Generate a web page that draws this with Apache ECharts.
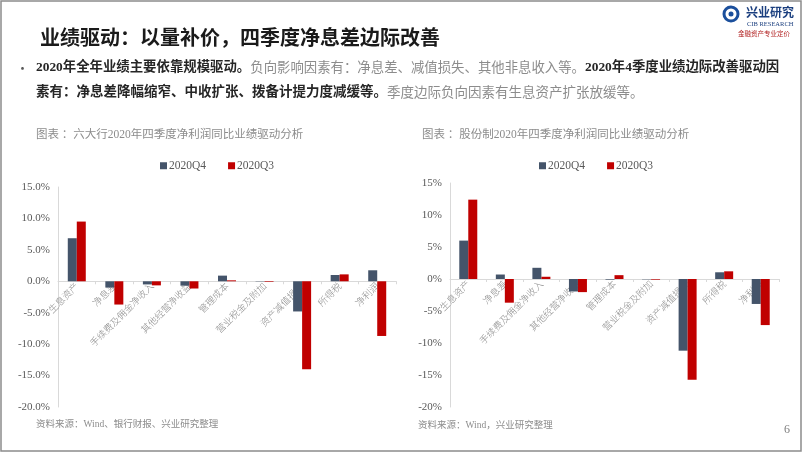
<!DOCTYPE html>
<html><head><meta charset="utf-8">
<script src="https://cdn.jsdelivr.net/npm/echarts@6/dist/echarts.min.js"></script>
<style>html,body{margin:0;padding:0;background:#fff;}#c{width:802px;height:452px;}</style>
</head><body><div id="c"></div>
<script>
const categories = ['生息资产','净息差','手续费及佣金净收入','其他经营净收益','管理成本','营业税金及附加','资产减值损失','所得税','净利润'];
const seriesNames = ['2020Q4','2020Q3'];
const bigSixQ4 = [6.85, -1.0, -0.5, -0.7, 0.9, -0.05, -4.8, 1.0, 1.75];
const bigSixQ3 = [9.5, -3.7, -0.65, -1.15, 0.15, -0.1, -14.0, 1.1, -8.7];
const jointQ4 = [6.0, 0.7, 1.75, -1.95, -0.1, -0.05, -11.2, 1.05, -3.9];
const jointQ3 = [12.4, -3.7, 0.35, -2.05, 0.6, -0.1, -15.75, 1.2, -7.2];
const yMin = -20, yMax = 15, yStep = 5;

const serif = "'Liberation Serif','Noto Sans CJK SC'";
const cjk = "'Noto Sans CJK SC'";
const colQ4 = '#44546A', colQ3 = '#C00000';
const grids = [{left:58, right:406, top:187, bottom:45},{left:450, right:23, top:183, bottom:45}];

function xAxis(gi){
  const h = 452 - grids[gi].top - grids[gi].bottom;
  const zeroOffset = -h * (0 - yMin) / (yMax - yMin);
  return {type:'category', gridIndex:gi, data:categories, offset:zeroOffset,
    axisLine:{onZero:false, lineStyle:{color:'#D9D9D9'}},
    axisTick:{show:true, length:3, lineStyle:{color:'#D9D9D9'}},
    axisLabel:{rotate:45, interval:0, margin:3, color:'#8A8A8A', fontSize:9.5, fontFamily:cjk, fontWeight:300}};
}
function yAxis(gi, fmt){
  return {type:'value', gridIndex:gi, min:yMin, max:yMax, interval:yStep,
    axisLine:{show:true, lineStyle:{color:'#D9D9D9'}}, axisTick:{show:false},
    splitLine:{show:false},
    axisLabel:{formatter:fmt, color:'#595959', fontSize:11, fontFamily:serif, margin:8}};
}
function bar(name, data, gi, color){
  return {type:'bar', name:name, data:data, xAxisIndex:gi, yAxisIndex:gi,
    barWidth:9, barGap:'0%', itemStyle:{color:color}, z:3};
}
const chart = echarts.init(document.getElementById('c'), null, {renderer:'canvas'});
chart.setOption({
  animation:false,
  grid:grids.map(g => Object.assign({containLabel:false, outerBoundsMode:'none'}, g)),
  xAxis:[xAxis(0), xAxis(1)],
  yAxis:[yAxis(0, v=>v.toFixed(1)+'%'), yAxis(1, v=>v+'%')],
  legend:[
    {data:seriesNames, left:155, top:155, itemWidth:7, itemHeight:7, itemGap:22, icon:'rect',
     textStyle:{color:'#595959', fontSize:11.5, fontFamily:serif, padding:[0,0,0,-3]}},
    {data:seriesNames, left:534, top:155, itemWidth:7, itemHeight:7, itemGap:22, icon:'rect',
     textStyle:{color:'#595959', fontSize:11.5, fontFamily:serif, padding:[0,0,0,-3]}}
  ],
  series:[
    bar(seriesNames[0], bigSixQ4, 0, colQ4), bar(seriesNames[1], bigSixQ3, 0, colQ3),
    bar(seriesNames[0], jointQ4, 1, colQ4), bar(seriesNames[1], jointQ3, 1, colQ3)
  ],
  graphic:[
    {type:'rect', shape:{x:1, y:1, width:800, height:450}, style:{fill:'none', stroke:'#8C8C8C', lineWidth:1.5}, z:10},
    {type:'text', x:40, y:37, style:{text:'业绩驱动：以量补价，四季度净息差边际改善', font:"bold 20px 'Noto Sans CJK SC'", fill:'#1A1A1A', verticalAlign:'middle'}},
    {type:'text', x:16, y:68, style:{text:'•', font:"13px 'Noto Sans CJK SC'", fill:'#595959', verticalAlign:'middle'}},
    {type:'text', x:36, y:68, style:{
      text:'{b|2020年全年业绩主要依靠规模驱动。}{g|负向影响因素有：净息差、减值损失、其他非息收入等。}{b|2020年4季度业绩边际改善驱动因}',
      verticalAlign:'middle',
      rich:{b:{fontFamily:serif, fontWeight:'bold', fontSize:13.4, fill:'#262626'},
            g:{fontFamily:serif, fontSize:13.4, fill:'#8C8C8C'}}}},
    {type:'text', x:36, y:93, style:{
      text:'{b|素有：净息差降幅缩窄、中收扩张、拨备计提力度减缓等。}{g|季度边际负向因素有生息资产扩张放缓等。}',
      verticalAlign:'middle',
      rich:{b:{fontFamily:serif, fontWeight:'bold', fontSize:13.5, fill:'#262626'},
            g:{fontFamily:serif, fontSize:13.5, fill:'#8C8C8C'}}}},
    {type:'text', x:36, y:135, style:{text:'图表 ：六大行2020年四季度净利润同比业绩驱动分析', font:"11.5px 'Liberation Serif','Noto Sans CJK SC'", fill:'#8C8C8C', verticalAlign:'middle'}},
    {type:'text', x:422, y:135, style:{text:'图表 ：股份制2020年四季度净利润同比业绩驱动分析', font:"11.5px 'Liberation Serif','Noto Sans CJK SC'", fill:'#8C8C8C', verticalAlign:'middle'}},
    {type:'text', x:36, y:424, style:{text:'资料来源：Wind、银行财报、兴业研究整理', font:"9.5px 'Liberation Serif','Noto Sans CJK SC'", fill:'#8C8C8C', verticalAlign:'middle'}},
    {type:'text', x:418, y:425, style:{text:'资料来源：Wind，兴业研究整理', font:"9.5px 'Liberation Serif','Noto Sans CJK SC'", fill:'#8C8C8C', verticalAlign:'middle'}},
    {type:'text', x:784, y:430, style:{text:'6', font:"12px 'Liberation Serif'", fill:'#7F7F7F', verticalAlign:'middle'}},
    {type:'circle', shape:{cx:731, cy:14, r:7}, style:{fill:'none', stroke:'#1B4F9C', lineWidth:3}},
    {type:'circle', shape:{cx:731, cy:14, r:2.5}, style:{fill:'#1B4F9C'}},
    {type:'text', x:746, y:12, style:{text:'兴业研究', font:"bold 12px 'Noto Sans CJK SC'", fill:'#1B3F7F', verticalAlign:'middle'}},
    {type:'text', x:747, y:24, style:{text:'CIB RESEARCH', font:"6.5px 'Liberation Serif'", fill:'#1B3F7F', verticalAlign:'middle'}},
    {type:'text', x:738, y:34, style:{text:'金融资产专业定价', font:"6.5px 'Noto Sans CJK SC'", fill:'#B22222', verticalAlign:'middle'}}
  ]
});
</script></body></html>
